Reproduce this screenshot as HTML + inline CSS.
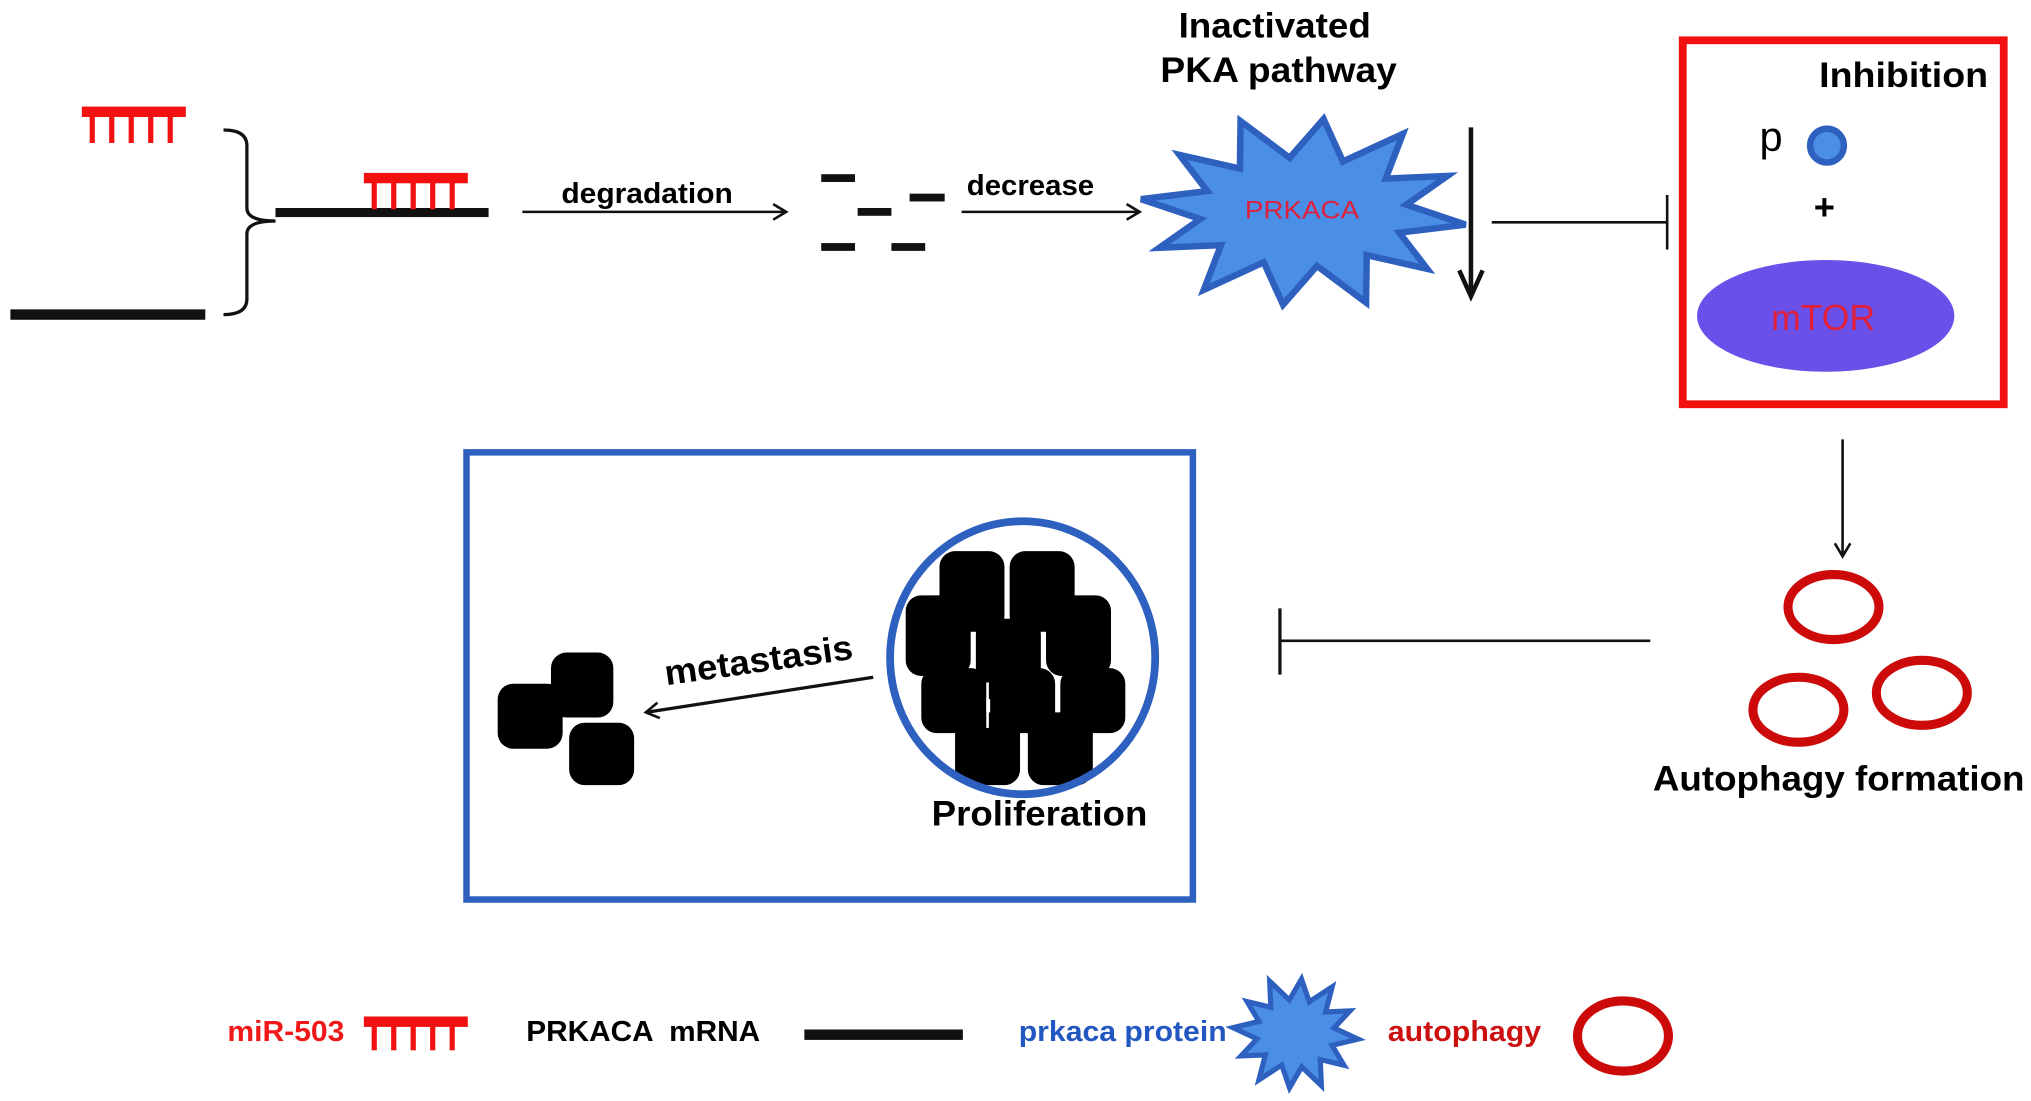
<!DOCTYPE html>
<html><head><meta charset="utf-8"><style>
html,body{margin:0;padding:0;background:#fff;width:2031px;height:1101px;overflow:hidden}
svg{display:block}
text{font-family:"Liberation Sans",Arial,sans-serif}
</style></head><body>
<svg id="s" width="2031" height="1101" viewBox="0 0 1563 847" preserveAspectRatio="none">
<defs>
<marker id="ah" markerWidth="14" markerHeight="14" refX="12" refY="7" orient="auto" markerUnits="userSpaceOnUse">
<path d="M2,1 L12,7 L2,13" fill="none" stroke="#111" stroke-width="2"/></marker>
</defs>
<g fill="#f21010">
<rect x="63" y="82" width="80" height="8"/>
<rect x="69" y="88" width="4" height="22"/><rect x="84" y="88" width="4" height="22"/><rect x="99" y="88" width="4" height="22"/><rect x="114" y="88" width="4" height="22"/><rect x="129" y="88" width="4" height="22"/>
</g>
<path d="M172,100 Q190,100 190,112 L190,160 Q190,170 212,170 Q190,170 190,180 L190,230 Q190,242 172,242" fill="none" stroke="#111" stroke-width="2.5"/>
<rect x="212" y="160" width="164" height="7" fill="#111"/>
<g fill="#f21010">
<rect x="280" y="133" width="80" height="8"/>
<rect x="286" y="139" width="4" height="22"/><rect x="301" y="139" width="4" height="22"/><rect x="316" y="139" width="4" height="22"/><rect x="331" y="139" width="4" height="22"/><rect x="346" y="139" width="4" height="22"/>
</g>
<rect x="8" y="238" width="150" height="8" fill="#111"/>
<line x1="402" y1="163" x2="605" y2="163" stroke="#111" stroke-width="2" marker-end="url(#ah)"/>
<text x="498" y="156" font-size="22" font-weight="bold" text-anchor="middle" textLength="132" lengthAdjust="spacingAndGlyphs">degradation</text>
<g fill="#111">
<rect x="632" y="134" width="26" height="6"/><rect x="700" y="149" width="27" height="6"/><rect x="660" y="160" width="26" height="6"/><rect x="632" y="187" width="26" height="6"/><rect x="686" y="187" width="26" height="6"/>
</g>
<line x1="740" y1="163" x2="877" y2="163" stroke="#111" stroke-width="2" marker-end="url(#ah)"/>
<text x="793" y="150" font-size="22" font-weight="bold" text-anchor="middle" textLength="98" lengthAdjust="spacingAndGlyphs">decrease</text>
<text x="981" y="29" font-size="27" font-weight="bold" text-anchor="middle" textLength="148" lengthAdjust="spacingAndGlyphs">Inactivated</text>
<text x="984" y="63" font-size="27" font-weight="bold" text-anchor="middle" textLength="182" lengthAdjust="spacingAndGlyphs">PKA pathway</text>
<polygon id="star1" fill="#4a8ee8" stroke="#2e60c0" stroke-width="5" stroke-linejoin="miter"/>
<text x="1002" y="168" font-size="19" fill="#e0203a" text-anchor="middle" textLength="88" lengthAdjust="spacingAndGlyphs">PRKACA</text>
<line x1="1132" y1="98" x2="1132" y2="226" stroke="#111" stroke-width="3.5"/>
<path d="M1123,208 L1132,228 L1141,208" fill="none" stroke="#111" stroke-width="3.5"/>
<line x1="1148" y1="171" x2="1283" y2="171" stroke="#111" stroke-width="2"/>
<line x1="1283" y1="150" x2="1283" y2="192" stroke="#111" stroke-width="2"/>
<rect x="1295" y="31" width="247" height="280" fill="none" stroke="#f01010" stroke-width="6"/>
<text x="1530" y="67" font-size="27" font-weight="bold" text-anchor="end" textLength="130" lengthAdjust="spacingAndGlyphs">Inhibition</text>
<text x="1363" y="116" font-size="32" text-anchor="middle">p</text>
<circle cx="1406" cy="112" r="13" fill="#4a8ee8" stroke="#2e60c0" stroke-width="5"/>
<text x="1404" y="169" font-size="28" font-weight="bold" text-anchor="middle">+</text>
<ellipse cx="1405" cy="243" rx="99" ry="43" fill="#6a50e8"/>
<text x="1403" y="254" font-size="28" fill="#e0203a" text-anchor="middle" textLength="80" lengthAdjust="spacingAndGlyphs">mTOR</text>
<line x1="1418" y1="338" x2="1418" y2="428" stroke="#111" stroke-width="2" marker-end="url(#ah)"/>
<g fill="none" stroke="#cc0a0a" stroke-width="7">
<ellipse cx="1411" cy="467" rx="35" ry="25"/>
<ellipse cx="1384" cy="546" rx="35" ry="25"/>
<ellipse cx="1479" cy="533" rx="35" ry="25"/>
</g>
<text x="1415" y="608" font-size="27" font-weight="bold" text-anchor="middle" textLength="286" lengthAdjust="spacingAndGlyphs">Autophagy formation</text>
<line x1="985" y1="493" x2="1270" y2="493" stroke="#111" stroke-width="2"/>
<line x1="985" y1="468" x2="985" y2="519" stroke="#111" stroke-width="2.5"/>
<rect x="359" y="348" width="559" height="344" fill="none" stroke="#2e60c0" stroke-width="5"/>
<g fill="#000">
<rect x="723" y="424" width="50" height="62" rx="12"/>
<rect x="777" y="424" width="50" height="62" rx="12"/>
<rect x="697" y="458" width="50" height="62" rx="12"/>
<rect x="805" y="458" width="50" height="62" rx="12"/>
<rect x="751" y="476" width="50" height="62" rx="12"/>
<rect x="709" y="514" width="50" height="50" rx="12"/>
<rect x="762" y="514" width="50" height="50" rx="12"/>
<rect x="816" y="514" width="50" height="50" rx="12"/>
<rect x="735" y="548" width="50" height="56" rx="12"/>
<rect x="791" y="548" width="50" height="56" rx="12"/>
</g>
<line x1="760" y1="525" x2="760" y2="560" stroke="#fff" stroke-width="2"/>
<ellipse cx="787" cy="506" rx="102" ry="105" fill="none" stroke="#2e60c0" stroke-width="6"/>
<text x="800" y="635" font-size="27" font-weight="bold" text-anchor="middle" textLength="166" lengthAdjust="spacingAndGlyphs">Proliferation</text>
<g fill="#000">
<rect x="424" y="502" width="48" height="50" rx="12"/>
<rect x="383" y="526" width="50" height="50" rx="12"/>
<rect x="438" y="556" width="50" height="48" rx="12"/>
</g>
<line x1="672" y1="521" x2="497" y2="548" stroke="#111" stroke-width="2.5" marker-end="url(#ah)"/>
<text x="585" y="517" font-size="27" font-weight="bold" text-anchor="middle" transform="rotate(-8 585 517)" textLength="146" lengthAdjust="spacingAndGlyphs">metastasis</text>
<text x="220" y="801" font-size="22" font-weight="bold" fill="#f01818" text-anchor="middle" textLength="90" lengthAdjust="spacingAndGlyphs">miR-503</text>
<g fill="#f21010">
<rect x="280" y="782" width="80" height="8"/>
<rect x="286" y="788" width="4" height="20"/><rect x="301" y="788" width="4" height="20"/><rect x="316" y="788" width="4" height="20"/><rect x="331" y="788" width="4" height="20"/><rect x="346" y="788" width="4" height="20"/>
</g>
<text x="495" y="801" font-size="22" font-weight="bold" text-anchor="middle" xml:space="preserve" textLength="180" lengthAdjust="spacingAndGlyphs">PRKACA  mRNA</text>
<rect x="619" y="792" width="122" height="8" fill="#111"/>
<text x="864" y="801" font-size="22" font-weight="bold" fill="#2256c0" text-anchor="middle" textLength="160" lengthAdjust="spacingAndGlyphs">prkaca protein</text>
<polygon id="star2" fill="#4a8ee8" stroke="#2e60c0" stroke-width="4"/>
<text x="1127" y="801" font-size="22" font-weight="bold" fill="#cc1010" text-anchor="middle" textLength="118" lengthAdjust="spacingAndGlyphs">autophagy</text>
<ellipse cx="1249" cy="797" rx="35" ry="27" fill="none" stroke="#cc0a0a" stroke-width="7"/>
</svg>
<script>
function star(id,cx,cy,orx,ory,irx,iry,n,rot){
 var p=[];for(var i=0;i<2*n;i++){var a=rot+Math.PI*i/n;var o=i%2==0;
 var rx=o?orx:irx,ry=o?ory:iry;if(o&&i%4==0){rx*=1.05;ry*=1.05;}
 p.push((cx+rx*Math.cos(a)).toFixed(1)+','+(cy+ry*Math.sin(a)).toFixed(1));}
 document.getElementById(id).setAttribute('points',p.join(' '));}
star('star1',1003,163,120,72,80,42,12,0.13);
star('star2',997,795,46,42,30,26,12,0.1);
</script>
</body></html>
